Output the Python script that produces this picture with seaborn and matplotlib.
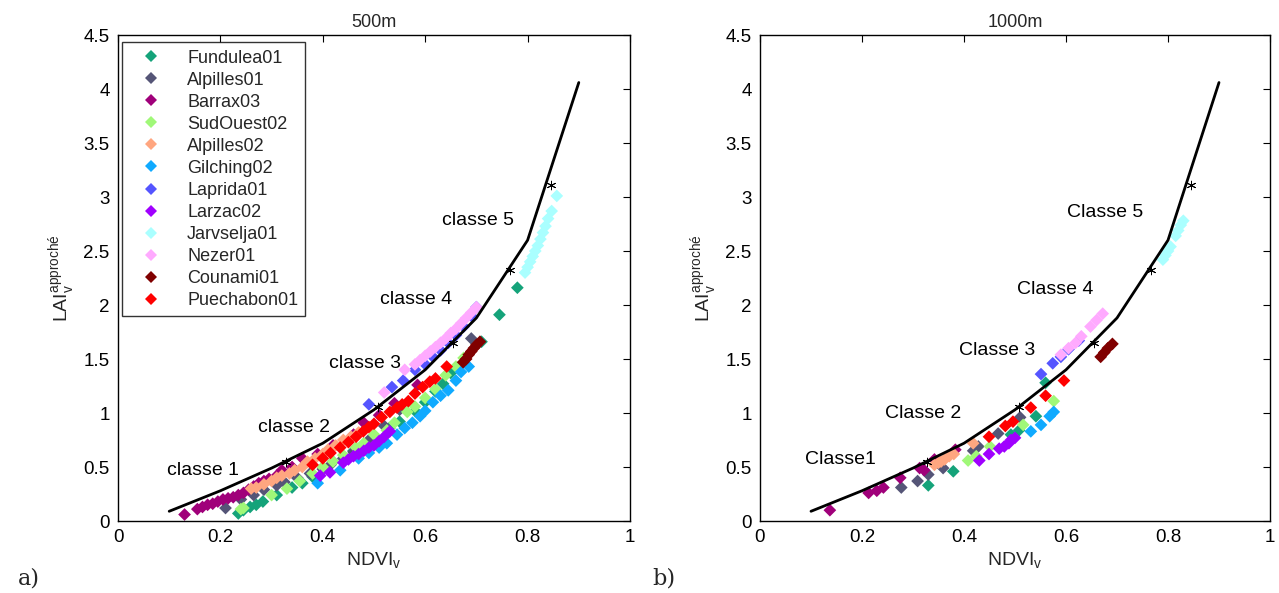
import numpy as np
import pandas as pd
import seaborn as sns
import matplotlib
matplotlib.use('Agg')
import matplotlib.pyplot as plt

sites = ['Fundulea01', 'Alpilles01', 'Barrax03', 'SudOuest02', 'Alpilles02', 'Gilching02',
         'Laprida01', 'Larzac02', 'Jarvselja01', 'Nezer01', 'Counami01', 'Puechabon01']
site_colors = ['#15a37a', '#555577', '#a0007a', '#a0f878', '#ffa680', '#10aaff',
               '#5555ff', '#a000ff', '#aaffff', '#ffaaff', '#800000', '#ff0000']

# reference curve and class boundaries
curve_ndvi = [0.1, 0.2, 0.3, 0.4, 0.5, 0.6, 0.7, 0.8, 0.9]
curve_lai = [0.09, 0.28, 0.49, 0.72, 1.03, 1.40, 1.88, 2.60, 4.06]
star_ndvi = [0.328, 0.508, 0.655, 0.766, 0.846]
star_lai = [0.55, 1.06, 1.65, 2.32, 3.11]

# ---- 500m
fund_500_x = [0.235, 0.245, 0.258, 0.27, 0.283, 0.31, 0.34, 0.36, 0.38, 0.42, 0.46, 0.50, 0.53, 0.55,
              0.58, 0.60, 0.62, 0.635, 0.65, 0.71, 0.745, 0.78]
fund_500_y = [0.07, 0.10, 0.13, 0.15, 0.18, 0.24, 0.31, 0.35, 0.41, 0.55, 0.65, 0.78, 0.86, 0.92,
              1.02, 1.10, 1.20, 1.27, 1.37, 1.66, 1.91, 2.16]
alp01_500_x = [0.21, 0.24, 0.265, 0.285, 0.31, 0.325, 0.35, 0.375, 0.40, 0.415, 0.44, 0.46, 0.49,
               0.52, 0.55, 0.69]
alp01_500_y = [0.12, 0.20, 0.24, 0.29, 0.33, 0.36, 0.40, 0.44, 0.48, 0.52, 0.58, 0.64, 0.75,
               0.88, 1.03, 1.69]
bar_500_x = [0.13, 0.155, 0.165, 0.175, 0.185, 0.195, 0.205, 0.215, 0.225, 0.235, 0.245, 0.255, 0.265,
             0.275, 0.285, 0.295, 0.31, 0.32, 0.34, 0.36, 0.39, 0.42, 0.46, 0.48, 0.51, 0.54, 0.585]
bar_500_y = [0.06, 0.11, 0.13, 0.15, 0.16, 0.18, 0.20, 0.21, 0.22, 0.24, 0.26, 0.29, 0.32,
             0.35, 0.37, 0.39, 0.42, 0.47, 0.50, 0.58, 0.62, 0.70, 0.80, 0.91, 0.98, 1.09, 1.26]
sud_500_x = [0.24, 0.245, 0.30, 0.33, 0.355, 0.38, 0.40, 0.42, 0.44, 0.465, 0.48, 0.50, 0.525, 0.54,
             0.565, 0.58, 0.60, 0.62, 0.64, 0.66, 0.675]
sud_500_y = [0.11, 0.12, 0.24, 0.30, 0.37, 0.44, 0.50, 0.55, 0.61, 0.68, 0.72, 0.80, 0.84, 0.91,
             1.01, 1.06, 1.14, 1.22, 1.35, 1.43, 1.51]
alp02_500_x = [0.26, 0.27, 0.285, 0.30, 0.31, 0.32, 0.335, 0.345, 0.36, 0.37, 0.385, 0.40, 0.41,
               0.425, 0.44, 0.455, 0.47]
alp02_500_y = [0.30, 0.31, 0.34, 0.37, 0.40, 0.42, 0.44, 0.47, 0.50, 0.55, 0.58, 0.62, 0.66,
               0.70, 0.75, 0.78, 0.82]
gil_500_x = [0.39, 0.434, 0.47, 0.49, 0.51, 0.525, 0.545, 0.56, 0.575, 0.59, 0.60, 0.615, 0.63,
             0.645, 0.66, 0.67, 0.685]
gil_500_y = [0.35, 0.47, 0.58, 0.63, 0.68, 0.72, 0.80, 0.86, 0.91, 0.97, 1.02, 1.10, 1.16,
             1.21, 1.30, 1.38, 1.43]
lap_500_x = [0.49, 0.535, 0.557, 0.58, 0.60, 0.615, 0.63, 0.645, 0.66, 0.675, 0.69, 0.70]
lap_500_y = [1.08, 1.24, 1.30, 1.40, 1.45, 1.52, 1.58, 1.65, 1.72, 1.80, 1.90, 1.98]
lar_500_x = [0.395, 0.414, 0.44, 0.45, 0.46, 0.47, 0.48, 0.49, 0.50, 0.51, 0.52, 0.531]
lar_500_y = [0.42, 0.45, 0.54, 0.57, 0.60, 0.62, 0.65, 0.68, 0.70, 0.74, 0.78, 0.83]
jar_500_x = [0.795, 0.80, 0.805, 0.81, 0.815, 0.82, 0.825, 0.83, 0.835, 0.84, 0.847, 0.857]
jar_500_y = [2.30, 2.35, 2.40, 2.45, 2.50, 2.55, 2.61, 2.67, 2.73, 2.80, 2.87, 3.01]
nez_500_x = [0.52, 0.56, 0.58, 0.59, 0.60, 0.61, 0.62, 0.63, 0.64, 0.65, 0.66, 0.67, 0.68, 0.69, 0.70]
nez_500_y = [1.19, 1.40, 1.45, 1.49, 1.53, 1.57, 1.61, 1.65, 1.69, 1.74, 1.78, 1.83, 1.88, 1.93, 1.98]
cou_500_x = [0.674, 0.68, 0.685, 0.69, 0.695, 0.70, 0.707]
cou_500_y = [1.47, 1.50, 1.54, 1.57, 1.60, 1.63, 1.66]
pue_500_x = [0.38, 0.40, 0.415, 0.434, 0.45, 0.465, 0.479, 0.49, 0.50, 0.515, 0.531, 0.545, 0.555,
             0.567, 0.58, 0.595, 0.609, 0.62, 0.642]
pue_500_y = [0.52, 0.58, 0.63, 0.68, 0.73, 0.78, 0.83, 0.87, 0.90, 0.96, 1.01, 1.05, 1.08,
             1.11, 1.18, 1.24, 1.29, 1.32, 1.43]

# ---- 1000m
fund_1000_x = [0.33, 0.379, 0.492, 0.508, 0.541, 0.56]
fund_1000_y = [0.33, 0.46, 0.80, 0.84, 0.97, 1.28]
alp01_1000_x = [0.277, 0.309, 0.33, 0.359, 0.418, 0.428, 0.467, 0.51]
alp01_1000_y = [0.31, 0.37, 0.43, 0.49, 0.65, 0.69, 0.81, 0.96]
bar_1000_x = [0.137, 0.213, 0.229, 0.242, 0.275, 0.313, 0.322, 0.342, 0.383]
bar_1000_y = [0.10, 0.26, 0.28, 0.31, 0.40, 0.49, 0.47, 0.57, 0.66]
sud_1000_x = [0.408, 0.424, 0.451, 0.516, 0.576]
sud_1000_y = [0.56, 0.60, 0.69, 0.89, 1.11]
alp02_1000_x = [0.342, 0.35, 0.355, 0.362, 0.371, 0.38, 0.418]
alp02_1000_y = [0.52, 0.54, 0.55, 0.57, 0.60, 0.62, 0.72]
gil_1000_x = [0.531, 0.551, 0.568, 0.576]
gil_1000_y = [0.83, 0.89, 0.97, 1.01]
lap_1000_x = [0.551, 0.574, 0.59, 0.605, 0.625]
lap_1000_y = [1.36, 1.46, 1.52, 1.59, 1.67]
lar_1000_x = [0.43, 0.449, 0.469, 0.479, 0.488, 0.492, 0.50]
lar_1000_y = [0.56, 0.62, 0.67, 0.69, 0.72, 0.75, 0.77]
jar_1000_x = [0.79, 0.795, 0.80, 0.805, 0.815, 0.82, 0.825, 0.83]
jar_1000_y = [2.42, 2.46, 2.50, 2.54, 2.64, 2.69, 2.74, 2.78]
nez_1000_x = [0.59, 0.605, 0.619, 0.63, 0.648, 0.66, 0.672]
nez_1000_y = [1.54, 1.60, 1.65, 1.71, 1.80, 1.86, 1.92]
cou_1000_x = [0.668, 0.675, 0.682, 0.691]
cou_1000_y = [1.52, 1.56, 1.60, 1.64]
pue_1000_x = [0.449, 0.481, 0.496, 0.531, 0.56, 0.596]
pue_1000_y = [0.78, 0.88, 0.92, 1.05, 1.16, 1.30]

labels_500 = ['classe 1', 'classe 2', 'classe 3', 'classe 4', 'classe 5']
label_500_x = [0.166, 0.344, 0.482, 0.582, 0.703]
label_500_y = [0.47, 0.87, 1.46, 2.05, 2.78]
labels_1000 = ['Classe1', 'Classe 2', 'Classe 3', 'Classe 4', 'Classe 5']
label_1000_x = [0.158, 0.32, 0.465, 0.578, 0.676]
label_1000_y = [0.57, 1.00, 1.58, 2.14, 2.86]

x_ticks = [0, 0.2, 0.4, 0.6, 0.8, 1]
x_ticklabels = ['0', '0.2', '0.4', '0.6', '0.8', '1']
y_ticks = [0, 0.5, 1, 1.5, 2, 2.5, 3, 3.5, 4, 4.5]
y_ticklabels = ['0', '0.5', '1', '1.5', '2', '2.5', '3', '3.5', '4', '4.5']


def build_frame(xs, ys):
    parts = []
    for name, x, y in zip(sites, xs, ys):
        parts.append(pd.DataFrame({'ndvi': x, 'lai': y, 'site': name}))
    return pd.concat(parts, ignore_index=True)


df_500 = build_frame(
    [fund_500_x, alp01_500_x, bar_500_x, sud_500_x, alp02_500_x, gil_500_x,
     lap_500_x, lar_500_x, jar_500_x, nez_500_x, cou_500_x, pue_500_x],
    [fund_500_y, alp01_500_y, bar_500_y, sud_500_y, alp02_500_y, gil_500_y,
     lap_500_y, lar_500_y, jar_500_y, nez_500_y, cou_500_y, pue_500_y])
df_1000 = build_frame(
    [fund_1000_x, alp01_1000_x, bar_1000_x, sud_1000_x, alp02_1000_x, gil_1000_x,
     lap_1000_x, lar_1000_x, jar_1000_x, nez_1000_x, cou_1000_x, pue_1000_x],
    [fund_1000_y, alp01_1000_y, bar_1000_y, sud_1000_y, alp02_1000_y, gil_1000_y,
     lap_1000_y, lar_1000_y, jar_1000_y, nez_1000_y, cou_1000_y, pue_1000_y])
curve_df = pd.DataFrame({'ndvi': curve_ndvi, 'lai': curve_lai})

sns.set_theme(style='white')
plt.rcParams['font.family'] = ['Liberation Sans', 'DejaVu Sans']
plt.rcParams['mathtext.fontset'] = 'custom'
plt.rcParams['mathtext.rm'] = 'Liberation Sans'

palette = dict(zip(sites, site_colors))

fig = plt.figure(figsize=(12.79, 5.93), dpi=100)
ax1 = fig.add_axes([118 / 1279, 1 - 521 / 593, 512 / 1279, 486 / 593])
ax2 = fig.add_axes([760 / 1279, 1 - 521 / 593, 510 / 1279, 486 / 593])

panels = [(ax1, df_500, '500m', labels_500, label_500_x, label_500_y, True),
          (ax2, df_1000, '1000m', labels_1000, label_1000_x, label_1000_y, False)]

for ax, df, title, lbls, lx, ly, show_legend in panels:
    sns.scatterplot(data=df, x='ndvi', y='lai', hue='site', hue_order=sites, palette=palette,
                    marker='D', s=42, linewidth=0, ax=ax, legend=show_legend)
    sns.lineplot(data=curve_df, x='ndvi', y='lai', sort=False, color='black', lw=2, ax=ax)
    ax.scatter(star_ndvi, star_lai, marker=(6, 2, 0), s=38, color='black', linewidths=0.7, zorder=5)
    for t, x, y in zip(lbls, lx, ly):
        ax.text(x, y, t, ha='center', va='center', fontsize=14, color='black')
    ax.set_xlim(0, 1)
    ax.set_ylim(0, 4.5)
    ax.set_xticks(x_ticks)
    ax.set_xticklabels(x_ticklabels)
    ax.set_yticks(y_ticks)
    ax.set_yticklabels(y_ticklabels)
    ax.tick_params(direction='in', top=True, right=True, length=5, width=0.8,
                   labelsize=13.5, colors='black', pad=6)
    for sp in ax.spines.values():
        sp.set_color('black')
        sp.set_linewidth(1.0)
    ax.set_title(title, fontsize=13, pad=6)
    ax.set_xlabel(r'NDVI$_{\mathrm{v}}$', fontsize=14, labelpad=3)
    ax.set_ylabel(r'LAI$_{\mathrm{v}}^{\mathrm{approché}}$', fontsize=14, labelpad=4)

    if show_legend:
        handles, names = ax.get_legend_handles_labels()
        leg = ax.legend(handles, names, loc='upper left', bbox_to_anchor=(0.008, 0.985),
                        borderaxespad=0, fontsize=13, frameon=True, fancybox=False,
                        edgecolor='black', labelspacing=0.28, handletextpad=0.8,
                        borderpad=0.4, markerscale=1.0, handlelength=2.4)
        leg.get_frame().set_linewidth(1.0)

fig.text(18 / 1279, 1 - 578 / 593, 'a)', family='DejaVu Serif', fontsize=16, va='center')
fig.text(652 / 1279, 1 - 578 / 593, 'b)', family='DejaVu Serif', fontsize=16, va='center')

fig.savefig('out.png', dpi=100)
